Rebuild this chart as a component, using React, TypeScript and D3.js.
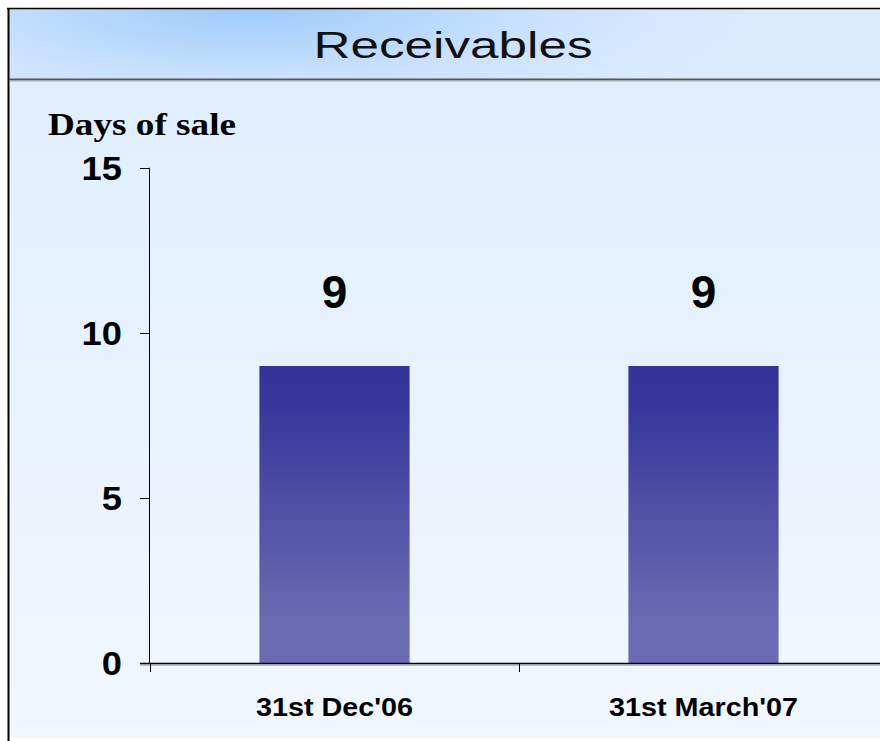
import React, { useEffect, useRef } from 'react';
import * as d3 from 'd3';

// data
const categories = ["31st Dec'06", "31st March'07"];
const values = [9, 9];
const yTicks = [0, 5, 10, 15];
const title = 'Receivables';
const yTitle = 'Days of sale';

const W = 880;
const H = 741;

// the original picture is stretched sideways, so widen the glyphs a bit
const stretch = (sel: d3.Selection<any, any, any, any>, k: number) => {
  sel.each(function () {
    const t = this as SVGTextElement;
    const len = t.getComputedTextLength();
    d3.select(t).attr('textLength', len * k).attr('lengthAdjust', 'spacingAndGlyphs');
  });
};

const App = () => {
  const svgRef = useRef<SVGSVGElement | null>(null);

  useEffect(() => {
    if (!svgRef.current) return;
    const svg = d3.select(svgRef.current);
    svg.selectAll('*').remove();

    const defs = svg.append('defs');

    // title bar: light blue with a brighter spot at top left
    const tg = defs.append('radialGradient')
      .attr('id', 'titleGrad')
      .attr('gradientUnits', 'userSpaceOnUse')
      .attr('cx', 250).attr('cy', 5).attr('r', 520)
      .attr('gradientTransform', 'translate(250,5) scale(1,0.25) translate(-250,-5)');
    tg.append('stop').attr('offset', 0).attr('stop-color', '#9ccafa');
    tg.append('stop').attr('offset', 0.6).attr('stop-color', '#cde3fd');
    tg.append('stop').attr('offset', 1).attr('stop-color', '#dbebfe');

    const bg = defs.append('linearGradient')
      .attr('id', 'bodyGrad').attr('x1', 0).attr('y1', 0).attr('x2', 0).attr('y2', 1);
    bg.append('stop').attr('offset', 0).attr('stop-color', '#e0eefd');
    bg.append('stop').attr('offset', 1).attr('stop-color', '#f1f7fe');

    const barG = defs.append('linearGradient')
      .attr('id', 'barGrad').attr('x1', 0).attr('y1', 0).attr('x2', 0).attr('y2', 1);
    barG.append('stop').attr('offset', 0).attr('stop-color', '#333399');
    barG.append('stop').attr('offset', 0.12).attr('stop-color', '#36369a');
    barG.append('stop').attr('offset', 0.85).attr('stop-color', '#6a6ab2');
    barG.append('stop').attr('offset', 1).attr('stop-color', '#6b6bb3');

    // frame
    svg.append('rect').attr('x', 0).attr('y', 0).attr('width', W).attr('height', H).attr('fill', '#ffffff');
    svg.append('rect').attr('x', 9).attr('y', 9).attr('width', W - 9).attr('height', 71).attr('fill', 'url(#titleGrad)');
    svg.append('rect').attr('x', 9).attr('y', 81).attr('width', W - 9).attr('height', 657).attr('fill', 'url(#bodyGrad)');
    svg.append('line').attr('x1', 7).attr('x2', W).attr('y1', 8.5).attr('y2', 8.5).attr('stroke', '#000').attr('stroke-width', 1.5);
    svg.append('line').attr('x1', 8.5).attr('x2', 8.5).attr('y1', 8).attr('y2', H).attr('stroke', '#000').attr('stroke-width', 2);
    svg.append('line').attr('x1', 9).attr('x2', W).attr('y1', 79.5).attr('y2', 79.5).attr('stroke', '#555').attr('stroke-width', 2);
    svg.append('line').attr('x1', 9).attr('x2', W).attr('y1', 81).attr('y2', 81).attr('stroke', '#9aa').attr('stroke-width', 1);

    svg.append('text')
      .attr('x', 453).attr('y', 58)
      .attr('text-anchor', 'middle')
      .attr('font-family', 'Liberation Sans, Arial, sans-serif')
      .attr('font-size', 36)
      .attr('fill', '#111')
      .attr('textLength', 279)
      .attr('lengthAdjust', 'spacingAndGlyphs')
      .text(title);

    svg.append('text')
      .attr('x', 48).attr('y', 135)
      .attr('font-family', 'Liberation Serif, Times New Roman, serif')
      .attr('font-weight', 'bold')
      .attr('font-size', 31)
      .attr('fill', '#000')
      .attr('textLength', 188)
      .attr('lengthAdjust', 'spacingAndGlyphs')
      .text(yTitle);

    // scales
    const x = d3.scaleBand<string>()
      .domain(categories)
      .range([150, 888])
      .paddingInner(0.593)
      .paddingOuter(0.2965);
    const y = d3.scaleLinear().domain([0, 15]).range([663, 168]);

    // bars
    svg.selectAll('.bar')
      .data(values)
      .join('rect')
      .attr('class', 'bar')
      .attr('x', (_d, i) => x(categories[i]) as number)
      .attr('y', d => y(d))
      .attr('width', x.bandwidth())
      .attr('height', d => y(0) - y(d))
      .attr('fill', 'url(#barGrad)');

    // value labels
    svg.selectAll('.val')
      .data(values)
      .join('text')
      .attr('class', 'val')
      .attr('x', (_d, i) => (x(categories[i]) as number) + x.bandwidth() / 2)
      .attr('y', d => y(d) - 58)
      .attr('text-anchor', 'middle')
      .attr('font-family', 'Liberation Sans, Arial, sans-serif')
      .attr('font-weight', 'bold')
      .attr('font-size', 46)
      .attr('fill', '#000')
      .text(d => String(d));

    // y axis
    const yAxis = svg.append('g')
      .attr('transform', 'translate(150,0)')
      .call(d3.axisLeft(y).tickValues(yTicks).tickSize(10).tickPadding(18).tickFormat(d3.format('d')));
    yAxis.select('.domain').attr('d', `M0,${y(15)}H-0.5V${y(0)}`).attr('stroke', '#000');
    yAxis.selectAll('line').attr('stroke', '#000');
    const yLabels = yAxis.selectAll('text')
      .attr('font-family', 'Liberation Sans, Arial, sans-serif')
      .attr('font-weight', 'bold')
      .attr('font-size', 33)
      .attr('dy', '0.35em')
      .attr('fill', '#000');
    stretch(yLabels, 1.1);

    // x axis with ticks at the band boundaries
    const xAxis = svg.append('g').attr('transform', `translate(0,${y(0)})`);
    xAxis.append('line').attr('x1', 140).attr('x2', W).attr('y1', 0.5).attr('y2', 0.5).attr('stroke', '#000').attr('stroke-width', 1.5);
    xAxis.append('line').attr('x1', 140).attr('x2', W).attr('y1', 2).attr('y2', 2).attr('stroke', '#888').attr('stroke-width', 1);
    const bounds = categories.map(c => (x(c) as number) - x.step() * x.paddingInner() / 2);
    xAxis.selectAll('.xt')
      .data(bounds)
      .join('line')
      .attr('class', 'xt')
      .attr('x1', d => Math.round(d) + 0.5).attr('x2', d => Math.round(d) + 0.5)
      .attr('y1', 0).attr('y2', 9)
      .attr('stroke', '#000');
    const xLabels = xAxis.selectAll('.xl')
      .data(categories)
      .join('text')
      .attr('class', 'xl')
      .attr('x', d => (x(d) as number) + x.bandwidth() / 2)
      .attr('y', 53)
      .attr('text-anchor', 'middle')
      .attr('font-family', 'Liberation Sans, Arial, sans-serif')
      .attr('font-weight', 'bold')
      .attr('font-size', 25)
      .attr('fill', '#000')
      .text(d => d);
    stretch(xLabels, 1.15);
  }, []);

  return (
    <svg
      ref={svgRef}
      width={W}
      height={H}
      style={{ position: 'absolute', left: 0, top: 0, display: 'block' }}
    />
  );
};

export default App;
